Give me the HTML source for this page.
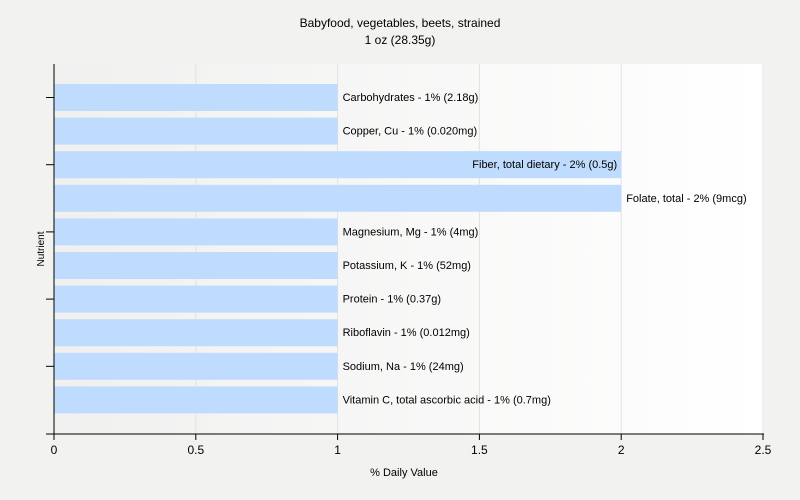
<!DOCTYPE html>
<html><head><meta charset="utf-8"><style>
html,body{margin:0;padding:0;overflow:hidden;width:800px;height:500px;background:#f2f2f1;font-family:"Liberation Sans",sans-serif;}
svg{display:block;}
svg text{font-family:"Liberation Sans",sans-serif;}
</style></head><body>
<svg width="800" height="500" xmlns="http://www.w3.org/2000/svg">
<defs><linearGradient id="bg" x1="0" x2="1" y1="0" y2="0"><stop offset="0" stop-color="#f0f0ef"/><stop offset="1" stop-color="#ffffff"/></linearGradient></defs>
<rect width="800" height="500" fill="#f2f2f1"/>
<text x="400" y="27" text-anchor="middle" font-size="12">Babyfood, vegetables, beets, strained</text>
<text x="400" y="44" text-anchor="middle" font-size="12">1 oz (28.35g)</text>
<rect x="54" y="64" width="710" height="370" fill="url(#bg)"/>
<g id="grid"></g><g id="bars"></g><g id="axes"></g>
<text x="404" y="476" text-anchor="middle" font-size="11">% Daily Value</text>
<text transform="translate(44,249) rotate(-90)" text-anchor="middle" font-size="10">Nutrient</text>
</svg>
<script>
const categories=["Carbohydrates","Copper, Cu","Fiber, total dietary","Folate, total","Magnesium, Mg","Potassium, K","Protein","Riboflavin","Sodium, Na","Vitamin C, total ascorbic acid"];
const values=[1,1,2,2,1,1,1,1,1,1];
const amounts=["2.18g","0.020mg","0.5g","9mcg","4mg","52mg","0.37g","0.012mg","24mg","0.7mg"];
const xTicks=[0,0.5,1,1.5,2,2.5];
const NS="http://www.w3.org/2000/svg";
const x=v=>54+v*(709/2.5);
const yTop=i=>84+i*33.6;
function mk(t,a,p){const e=document.createElementNS(NS,t);for(const k in a)e.setAttribute(k,a[k]);p.appendChild(e);return e;}
const grid=document.getElementById('grid'),bars=document.getElementById('bars'),axes=document.getElementById('axes');
xTicks.forEach(t=>{if(t>0){const g=mk('line',{x1:x(t),x2:x(t),y1:64,y2:434,stroke:'#e2e2e2'},grid);

}
const tk=mk('line',{x1:x(t),x2:x(t),y1:434,y2:440,stroke:'#000'},axes);


const tl=mk('text',{x:x(t),y:454,'text-anchor':'middle','font-size':12},axes);tl.textContent=String(t);

});
categories.forEach((c,i)=>{const w=x(values[i])-x(0);
const r=mk('rect',{x:x(0),y:yTop(i),width:w,height:27,fill:'#bfdbfe'},bars);


const label=c+" - "+values[i]+"% ("+amounts[i]+")";
const inside=values[i]>=2&&i===2;
const t=mk('text',{x:inside?x(values[i])-4:x(values[i])+5,y:yTop(i)+17,'font-size':11,'text-anchor':inside?'end':'start'},bars);
t.textContent=label;


if(i%2===0){const k=mk('line',{x1:46,x2:54,y1:yTop(i)+13.5,y2:yTop(i)+13.5,stroke:'#000'},axes);

}});
const ya=mk('line',{x1:54,x2:54,y1:64,y2:434,stroke:'#000'},axes);


const xa=mk('line',{x1:46,x2:764,y1:434,y2:434,stroke:'#000'},axes);


</script>
</body></html>
